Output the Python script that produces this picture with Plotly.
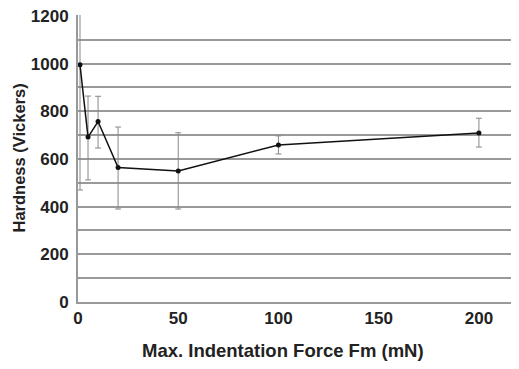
import plotly.graph_objects as go

force_mn = [1, 5, 10, 20, 50, 100, 200]
hardness = [995, 692, 757, 564, 550, 659, 709]
err_plus = [530, 172, 106, 170, 160, 38, 62]
err_minus = [525, 180, 111, 174, 160, 38, 59]

x_ticks = [0, 50, 100, 150, 200]
y_ticks = [0, 200, 400, 600, 800, 1000, 1200]

fig = go.Figure()
fig.add_trace(go.Scatter(
    x=force_mn, y=hardness,
    mode="lines+markers",
    line=dict(color="#111111", width=1.5),
    marker=dict(color="#111111", size=5),
    error_y=dict(type="data", symmetric=False, array=err_plus, arrayminus=err_minus,
                 color="#888888", thickness=1, width=3),
    showlegend=False,
    cliponaxis=True,
))

fam = "Liberation Sans, Arial, sans-serif"
font = dict(family=fam, size=17, color="#222222")

# page body has an 8px margin, so the figure is offset by (8, 8)
L, T, W, H, B = 70, 7, 511, 361, 67
pw, ph = W - L, H - T - B

fig.update_layout(
    width=W, height=H,
    margin=dict(l=L, r=0, t=T, b=B),
    paper_bgcolor="white", plot_bgcolor="white",
    font=font,
    xaxis=dict(
        range=[0, 220], tickvals=x_ticks, ticktext=[f"<b>{v}</b>" for v in x_ticks],
        showgrid=False, zeroline=False, showline=True, linecolor="#999999", linewidth=2,
        ticks="", tickfont=font, automargin=False, ticklabeloverflow="allow",
    ),
    yaxis=dict(
        range=[0, 1204], tickvals=y_ticks, ticktext=[f"<b>{v}</b>" for v in y_ticks],
        showgrid=True, gridcolor="#999999", gridwidth=2,
        minor=dict(dtick=100, showgrid=True, gridcolor="#999999", gridwidth=2),
        zeroline=False, showline=True, linecolor="#999999", linewidth=2,
        ticks="", tickfont=font, ticklabelstandoff=4, automargin=False,
        ticklabeloverflow="allow",
    ),
    annotations=[
        dict(text="<b>Hardness (Vickers)</b>", xref="paper", yref="paper",
             x=(10 - L) / pw, y=0.5, xanchor="center", yanchor="middle",
             textangle=-90, showarrow=False, font=dict(family=fam, size=16.5, color="#222222")),
        dict(text="<b>Max. Indentation Force Fm (mN)</b>", xref="paper", yref="paper",
             x=(275 - L) / pw, y=-48 / ph, xanchor="center", yanchor="middle",
             showarrow=False, font=dict(family=fam, size=18.5, color="#222222")),
    ],
)

fig.write_html("out.html")
